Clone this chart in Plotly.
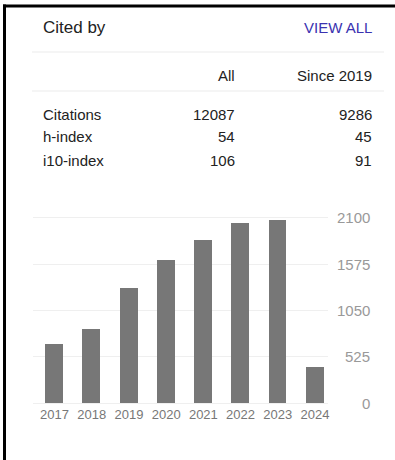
import plotly.graph_objects as go

# ---- data ----
years = [2017, 2018, 2019, 2020, 2021, 2022, 2023, 2024]
citations = [667, 841, 1300, 1620, 1850, 2040, 2070, 406]
y_ticks = [0, 525, 1050, 1575, 2100]
metric_names = ["Citations", "h-index", "i10-index"]
all_values = [12087, 54, 106]
since_values = [9286, 45, 91]
col_headers = ["All", "Since 2019"]
title_text = "Cited by"
link_text = "VIEW ALL"

W, H = 395, 460
FONT = "Arial, Liberation Sans, sans-serif"


def px(x):
    return x / W


def py(y):
    return 1 - y / H


fig = go.Figure()
fig.add_trace(go.Bar(
    x=years, y=citations, width=0.483,
    marker=dict(color="#777777", line=dict(width=0)),
    hoverinfo="x+y",
))

# axis geometry (pixels)
grid_left, grid_right = 33.3, 328.3
x0_px, step = 54.5, (315 - 54.5) / 7
xr0 = years[0] - (x0_px - grid_left) / step
xr1 = years[-1] + (grid_right - 315) / step
base_px, top_px = 403.3, 217.7
k = (base_px - top_px) / 2100
pad = 20
yb = base_px + pad * k
yt = top_px - pad * k

fig.update_layout(
    width=W, height=H,
    margin=dict(l=0, r=0, t=0, b=0),
    paper_bgcolor="white", plot_bgcolor="white",
    showlegend=False, bargap=0,
    font=dict(family=FONT),
    xaxis=dict(
        domain=[px(grid_left), px(grid_right)],
        range=[xr0, xr1],
        tickvals=years, ticktext=[str(y) for y in years],
        tickfont=dict(size=13, color="#777777", family=FONT),
        showgrid=False, zeroline=False, showline=False, ticks="",
        fixedrange=True,
    ),
    yaxis=dict(
        domain=[py(yb), py(yt)],
        range=[-pad, 2100 + pad],
        tickvals=y_ticks, showticklabels=False,
        showgrid=True, gridcolor="#efefef", gridwidth=1,
        zeroline=False, showline=False, ticks="",
        fixedrange=True,
    ),
)

# y tick labels, right-aligned at the right edge
for v in y_ticks:
    fig.add_annotation(
        x=px(372), xref="paper", y=v, yref="y",
        text=str(v), showarrow=False, xanchor="right", yanchor="middle",
        font=dict(size=15, color="#999999", family=FONT),
    )

# header
fig.add_annotation(x=px(41), y=py(27.5), xref="paper", yref="paper",
                   text=title_text, showarrow=False, xanchor="left", yanchor="middle",
                   font=dict(size=17, color="#222222", family=FONT))
fig.add_annotation(x=px(374), y=py(27.5), xref="paper", yref="paper",
                   text=link_text, showarrow=False, xanchor="right", yanchor="middle",
                   font=dict(size=15, color="#3a32b0", family=FONT))

# column headers
col_x = [237, 374]
for cx, t in zip(col_x, col_headers):
    fig.add_annotation(x=px(cx), y=py(76), xref="paper", yref="paper",
                       text=t, showarrow=False, xanchor="right", yanchor="middle",
                       font=dict(size=15, color="#222222", family=FONT))

# table rows
row_y = [114, 137, 160]
for ry, name, a, s in zip(row_y, metric_names, all_values, since_values):
    fig.add_annotation(x=px(41), y=py(ry), xref="paper", yref="paper",
                       text=name, showarrow=False, xanchor="left", yanchor="middle",
                       font=dict(size=15, color="#222222", family=FONT))
    fig.add_annotation(x=px(col_x[0]), y=py(ry), xref="paper", yref="paper",
                       text=str(a), showarrow=False, xanchor="right", yanchor="middle",
                       font=dict(size=15, color="#222222", family=FONT))
    fig.add_annotation(x=px(col_x[1]), y=py(ry), xref="paper", yref="paper",
                       text=str(s), showarrow=False, xanchor="right", yanchor="middle",
                       font=dict(size=15, color="#222222", family=FONT))

# separators
for sy in [52, 91]:
    fig.add_shape(type="line", xref="paper", yref="paper",
                  x0=px(32), x1=px(384), y0=py(sy), y1=py(sy),
                  line=dict(color="#ebebeb", width=1))

# frame (top & left black border)
fig.add_shape(type="line", xref="paper", yref="paper",
              x0=px(3), x1=1, y0=py(6), y1=py(6),
              line=dict(color="black", width=3))
fig.add_shape(type="line", xref="paper", yref="paper",
              x0=px(4.5), x1=px(4.5), y0=py(4.5), y1=0,
              line=dict(color="black", width=3))

fig.write_html("out.html")
